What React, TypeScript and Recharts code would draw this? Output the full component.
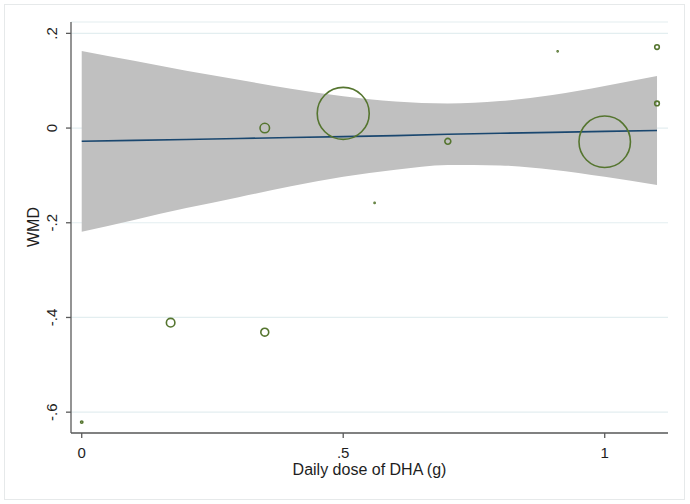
import {
  Area,
  CartesianGrid,
  ComposedChart,
  Line,
  Scatter,
  XAxis,
  YAxis,
  ZAxis
} from "recharts";

// fitted meta-regression line and 95% band
const doseGrid = [0, 0.1, 0.2, 0.3, 0.4, 0.5, 0.6, 0.7, 0.8, 0.9, 1.0, 1.1];
const fitWmd = [-0.028, -0.026, -0.024, -0.022, -0.02, -0.018, -0.016, -0.013, -0.011, -0.009, -0.007, -0.005];
const ciLower = [-0.219, -0.194, -0.169, -0.146, -0.123, -0.103, -0.088, -0.078, -0.079, -0.088, -0.103, -0.12];
const ciUpper = [0.163, 0.142, 0.121, 0.102, 0.083, 0.067, 0.056, 0.052, 0.057, 0.07, 0.089, 0.11];

// individual studies (bubble area ~ weight)
const studyDose = [0, 0.17, 0.35, 0.35, 0.5, 0.56, 0.7, 0.91, 1.0, 1.1, 1.1];
const studyWmd = [-0.621, -0.411, -0.431, 0.0, 0.031, -0.158, -0.028, 0.162, -0.029, 0.171, 0.052];
const studyWeight = [1.4, 18.5, 16, 23, 690, 0.3, 9, 0.3, 676, 5.5, 5.5];

const xTicks = [0, 0.5, 1];
const yTicks = [-0.6, -0.4, -0.2, 0, 0.2];

const font = "'Liberation Sans', Arial, sans-serif";
const ink = "#1e1e1e";
const axisColor = "#5a5a5a";
const green = "#55752f";
const navy = "#1a476f";

const fitData = doseGrid.map((x, i) => ({ x, fit: fitWmd[i], band: [ciLower[i], ciUpper[i]] }));
const studies = studyDose.map((x, i) => ({ x, y: studyWmd[i], w: studyWeight[i] }));

const stataNum = (v: number) => {
  if (Math.abs(v) < 1e-9) return "0";
  const s = String(Math.round(Math.abs(v) * 10) / 10).replace(/^0\./, ".");
  return (v < 0 ? "-" : "") + s;
};

function YTick(props: any) {
  const { x, y, payload } = props;
  return (
    <text x={x} y={y} transform={`rotate(-90 ${x} ${y})`} textAnchor="middle" fill={ink} fontSize={15} fontFamily={font}>
      {stataNum(payload.value)}
    </text>
  );
}

export default function App() {
  return (
    <div style={{ position: "absolute", left: 0, top: 0, width: 690, height: 504, background: "#fff" }}>
      <div style={{ position: "absolute", left: 4, top: 4, width: 681, height: 496, border: "1px solid #e6e9ea", boxSizing: "border-box" }} />
      <div style={{ position: "absolute", left: 0, top: 0 }}>
        <ComposedChart width={690} height={504} data={fitData} margin={{ top: 22, right: 22, bottom: 0, left: 0 }}>
          <CartesianGrid horizontal vertical={false} stroke="#e3eef0" strokeWidth={1.2} />
          <XAxis
            type="number"
            dataKey="x"
            domain={[-0.0205, 1.121]}
            allowDataOverflow
            ticks={xTicks}
            tickFormatter={stataNum}
            height={71}
            tickSize={5}
            tickMargin={9}
            stroke={axisColor}
            strokeWidth={1.3}
            tick={{ fill: ink, fontSize: 15, fontFamily: font }}
            label={{
              content: () => (
                <text x={369.5} y={475} textAnchor="middle" fill={ink} fontSize={16} fontFamily={font}>
                  Daily dose of DHA (g)
                </text>
              )
            }}
          />
          <YAxis
            type="number"
            domain={[-0.644, 0.224]}
            allowDataOverflow
            ticks={yTicks}
            width={71}
            tickSize={5}
            tickMargin={9}
            stroke={axisColor}
            strokeWidth={1.3}
            tick={<YTick />}
            label={{
              content: () => (
                <text x={39} y={227} transform="rotate(-90 39 227)" textAnchor="middle" fill={ink} fontSize={16} fontFamily={font}>
                  WMD
                </text>
              )
            }}
          />
          <ZAxis type="number" dataKey="w" domain={[0, 676]} range={[0, 2124]} />
          <Area type="monotone" dataKey="band" stroke="none" fill="#c0c0c0" fillOpacity={1} isAnimationActive={false} />
          <Line type="linear" dataKey="fit" stroke={navy} strokeWidth={1.6} dot={false} isAnimationActive={false} />
          <Scatter data={studies} dataKey="y" shape="circle" fill="none" stroke={green} strokeWidth={1.6} isAnimationActive={false} />
        </ComposedChart>
      </div>
    </div>
  );
}
